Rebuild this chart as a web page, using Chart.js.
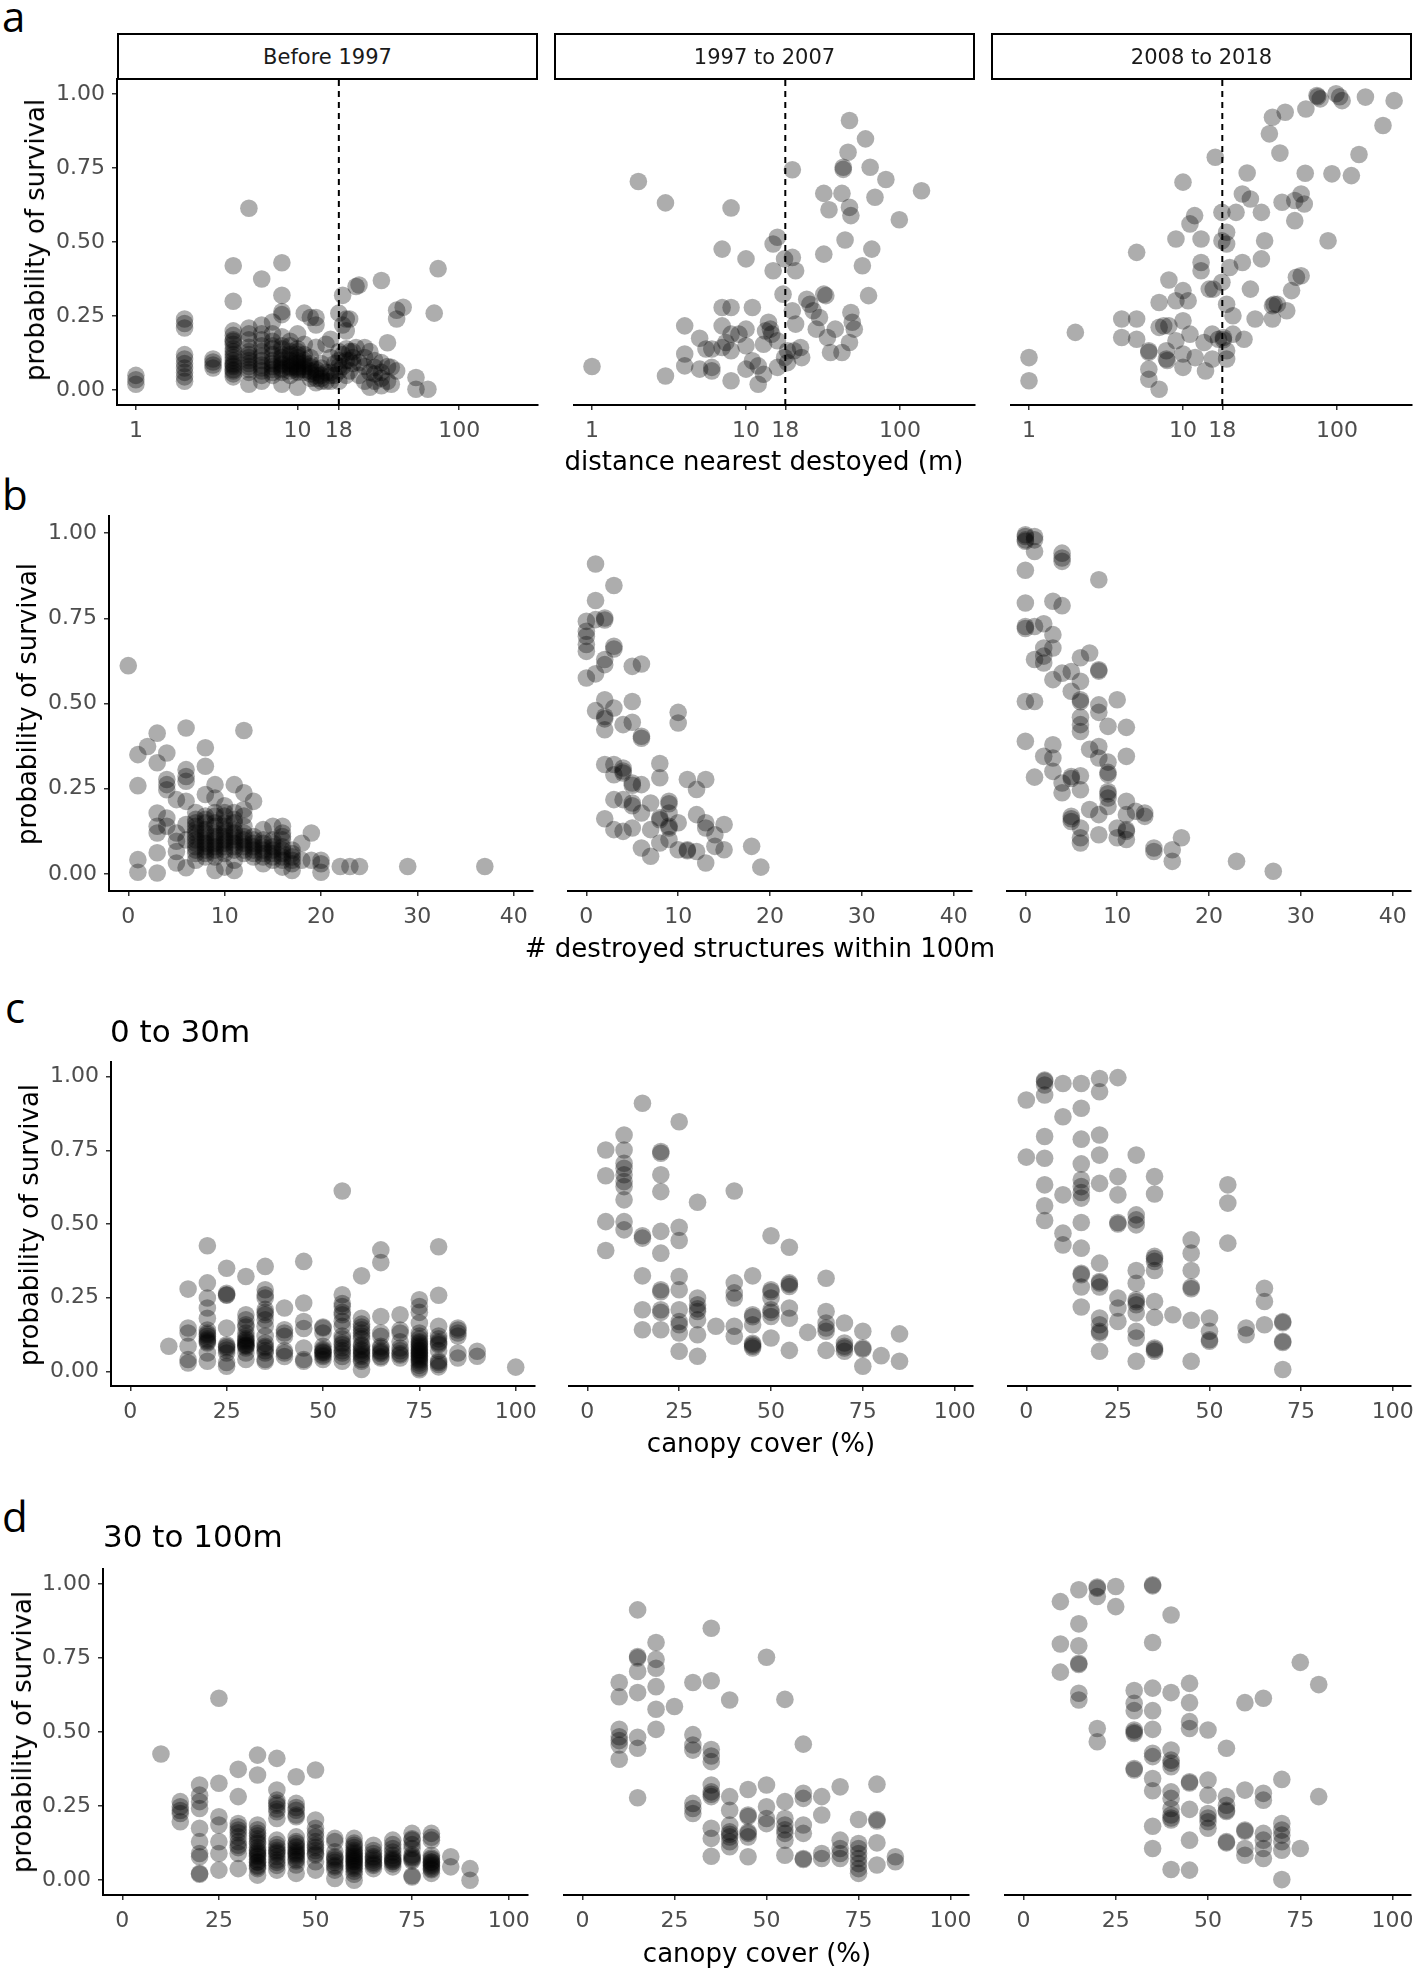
<!DOCTYPE html>
<html>
<head>
<meta charset="utf-8">
<script src="https://cdn.jsdelivr.net/npm/chart.js@4.4.1/dist/chart.umd.min.js"></script>
<style>
  body { margin: 0; background: #fff; width: 1418px; height: 1974px; position: relative; overflow: hidden; font-family: "DejaVu Sans", sans-serif; }
  canvas, .abs { position: absolute; }
  .letter { font-family: "Open Sans", sans-serif; font-size: 42px; line-height: 1; color: #000; }
  .strip { box-sizing: border-box; border: 2px solid #000; background: #fff; display: flex; align-items: center; justify-content: center; font-size: 21px; color: #1a1a1a; padding-top: 1px; }
  .xt { font-size: 26px; line-height: 1; white-space: nowrap; transform: translateX(-50%); color: #000; }
  .yt { font-size: 26px; line-height: 1; white-space: nowrap; transform: translate(-50%, -50%) rotate(-90deg); color: #000; }
  .rt { font-size: 31px; line-height: 1; white-space: nowrap; color: #000; }
</style>
</head>
<body>
<script>
// tick values and panel labels
const yTicks = [0, 0.25, 0.5, 0.75, 1];
const distTicks = [1, 10, 18, 100];
const countTicks = [0, 10, 20, 30, 40];
const canopyTicks = [0, 25, 50, 75, 100];
const periods = ['Before 1997', '1997 to 2007', '2008 to 2018'];
const cutoffDistance = 18;

// a: distance to nearest destroyed structure (m) vs probability of survival
const distBefore1997 = [
  [1,.05],[1,.035],[1,.02],
  [2,.24],[2,.225],[2,.21],[2,.12],[2,.105],[2,.09],[2,.075],[2,.06],[2,.045],[2,.03],
  [3,.105],[3,.095],[3,.085],[3,.075],
  [4,.42],[4,.30],[4,.20],[4,.185],[4,.17],[4,.165],[4,.155],[4,.14],[4,.13],[4,.12],[4,.11],[4,.10],[4,.09],[4,.085],[4,.08],[4,.07],[4,.065],[4,.055],[4,.045],
  [5,.614],[5,.21],[5,.19],[5,.17],[5,.145],[5,.13],[5,.12],[5,.11],[5,.1],[5,.09],[5,.08],[5,.07],[5,.06],[5,.02],
  [6,.375],[6,.22],[6,.19],[6,.17],[6,.15],[6,.13],[6,.115],[6,.1],[6,.085],[6,.075],[6,.065],[6,.05],[6,.03],
  [7,.23],[7,.19],[7,.165],[7,.15],[7,.14],[7,.12],[7,.1],[7,.09],[7,.08],[7,.07],[7,.06],[7,.05],
  [8,.43],[8,.32],[8,.265],[8,.255],[8,.18],[8,.15],[8,.14],[8,.12],[8,.11],[8,.1],[8,.09],[8,.085],[8,.075],[8,.07],[8,.06],[8,.02],
  [9,.165],[9,.15],[9,.13],[9,.12],[9,.1],[9,.09],[9,.08],[9,.075],[9,.065],[9,.05],
  [10,.19],[10,.14],[10,.13],[10,.12],[10,.11],[10,.1],[10,.09],[10,.08],[10,.075],[10,.07],[10,.065],[10,.06],[10,.01],
  [11,.26],[11,.155],[11,.12],[11,.1],[11,.09],[11,.08],[11,.07],[11,.06],
  [12,.245],[12,.11],[12,.09],[12,.08],[12,.065],[12,.055],[12,.04],
  [13,.245],[13,.22],[13,.145],[13,.07],[13,.06],[13,.05],[13,.04],[13,.025],
  [14,.09],[14,.075],[14,.05],[14,.04],[14,.03],
  [15,.155],[15,.06],[15,.03],
  [16,.172],[16,.11],[16,.06],[16,.05],[16,.03],
  [17,.09],[17,.05],
  [18,.26],[18,.13],[18,.1],[18,.08],[18,.065],[18,.03],
  [19,.32],[19,.22],[19,.12],[19,.08],
  [20,.24],[20,.2],[20,.14],[20,.1],[20,.05],
  [21,.24],[21,.13],[21,.1],[21,.065],
  [22,.13],[22,.11],[22,.09],
  [23,.35],[23,.144],
  [24,.355],[24,.093],[24,.05],
  [26,.144],[26,.11],[26,.08],[26,.03],
  [28,.13],[28,.06],[28,.01],
  [30,.1],[30,.077],[30,.055],[30,.03],
  [33,.37],[33,.093],[33,.06],[33,.04],[33,.015],
  [36,.16],[36,.08],[36,.03],
  [38,.077],[38,.02],
  [41,.27],[41,.24],[41,.065],
  [45,.28],
  [54,.043],[54,.003],
  [64,.003],
  [70,.26],
  [74,.41]
];
const dist1997to2007 = [
  [1,.08],[2,.704],[3,.632],[3,.048],[4,.217],[4,.122],[4,.082],[5,.175],[5,.071],[5.5,.139],
  [6,.139],[6,.077],[6,.065],[7,.476],[7,.279],[7,.217],[7,.144],[7.4,.161],[8,.615],[8,.279],
  [8,.189],[8,.133],[8,.032],[9,.189],[10,.443],[10,.206],[10,.15],[10,.071],[11,.279],[11,.099],
  [12,.082],[12,.02],[13,.155],[13,.054],[13.4,.2],[14,.229],[14.4,.206],[14.7,.189],[15,.493],[15,.403],
  [16,.516],[16,.167],[16,.077],[17.4,.324],[17.8,.443],[17.8,.11],[18.6,.133],[18.6,.093],[20,.744],[20,.448],
  [20,.268],[20.5,.133],[21,.403],[21,.223],[22.6,.144],[23,.11],[24.8,.307],[26,.29],[27.3,.268],[28.6,.206],
  [30,.245],[32,.664],[32,.459],[32,.324],[33,.319],[33.8,.178],[34.6,.609],[35.4,.127],[38,.206],[42,.664],
  [42.8,.752],[42.8,.745],[44,.507],[42,.127],[46,.803],[47,.91],[47,.617],[48,.589],[48,.262],[49,.229],
  [47,.161],[50.5,.206],[57,.42],[59.7,.848],[62.5,.319],[64,.752],[65.6,.476],[68.8,.651],[81,.711],[99,.575],
  [138,.673]
];
const dist2008to2018 = [
  [1,.11],[1,.032],[2,.195],[4,.24],[4,.178],[5,.465],[5,.24],[5,.172],[6,.133],[6,.128],
  [6,.071],[6,.037],[7,.296],[7,.212],[7,.003],[7.5,.217],[7.8,.133],[7.8,.105],[7.9,.1],[8.1,.372],
  [8.1,.217],[9,.51],[9,.167],[9,.302],[10,.702],[10,.336],[10,.234],[10,.122],[10,.077],[10.8,.302],
  [11.1,.189],[11.1,.561],[11.9,.589],[12,.11],[13.1,.51],[13.1,.431],[13.1,.403],[13.7,.161],[14,.065],[14.8,.341],
  [15.5,.189],[15.5,.105],[15.7,.341],[16.2,.786],[17,.172],[17.9,.6],[17.9,.504],[17.9,.364],[18.3,.178],[18.3,.17],
  [19.2,.533],[19.2,.493],[19.2,.29],[19.2,.133],[19.2,.105],[20.1,.414],[21.1,.251],[21.1,.189],[22.1,.6],[24.3,.431],
  [24.3,.662],[24.9,.172],[26.1,.733],[27.4,.645],[27.4,.341],[29.4,.24],[32.3,.6],[32.3,.443],[33.9,.504],[36.4,.865],
  [38.1,.921],[38.1,.24],[38.1,.285],[39,.29],[41,.29],[42.6,.8],[44,.634],[46.1,.938],[47.2,.268],[50.7,.336],
  [53.2,.572],[53.2,.64],[54.5,.381],[58.5,.662],[58.5,.386],[61.3,.628],[62.2,.732],[62.8,.949],[74.1,.994],[77.8,.983],
  [75,.99],[87.5,.504],[92.7,.73],[98.6,1.0],[108,.977],[104,.99],[124,.724],[139,.795],[153,.989],[199,.893],
  [235,.977]
];

// b: number of destroyed structures within 100 m
const countBefore1997 = [
  [0,.611],
  [1,.35],[1,.259],[1,.042],[1,.005],
  [2,.374],
  [3,.413],[3,.326],[3,.179],[3,.14],[3,.12],[3,.062],[3,.003],
  [4,.355],[4,.277],[4,.262],[4,.247],[4,.164],[4,.14],
  [5,.218],[5,.12],[5,.096],[5,.066],[5,.032],
  [6,.428],[6,.306],[6,.286],[6,.272],[6,.213],[6,.145],[6,.1],[6,.018],
  [7,.18],[7,.16],[7,.15],[7,.14],[7,.13],[7,.12],[7,.11],[7,.1],[7,.09],[7,.08],[7,.07],[7,.06],[7,.04],
  [8,.37],[8,.316],[8,.233],[8,.17],[8,.16],[8,.15],[8,.13],[8,.12],[8,.11],[8,.1],[8,.09],[8,.08],[8,.07],[8,.06],[8,.05],
  [9,.262],[9,.223],[9,.18],[9,.17],[9,.15],[9,.14],[9,.12],[9,.11],[9,.1],[9,.09],[9,.08],[9,.07],[9,.06],[9,.05],[9,.01],
  [10,.2],[10,.18],[10,.17],[10,.15],[10,.14],[10,.13],[10,.12],[10,.11],[10,.1],[10,.09],[10,.08],[10,.07],[10,.06],[10,.02],
  [11,.262],[11,.18],[11,.16],[11,.15],[11,.13],[11,.12],[11,.11],[11,.1],[11,.09],[11,.08],[11,.07],[11,.04],[11,.01],
  [12,.421],[12,.238],[12,.189],[12,.17],[12,.14],[12,.12],[12,.11],[12,.1],[12,.09],[12,.08],[12,.07],[12,.06],
  [13,.213],[13,.11],[13,.1],[13,.09],[13,.08],[13,.07],[13,.06],[13,.05],
  [14,.13],[14,.1],[14,.09],[14,.08],[14,.07],[14,.06],[14,.05],[14,.03],
  [15,.14],[15,.1],[15,.09],[15,.08],[15,.07],[15,.06],[15,.05],[15,.04],
  [16,.14],[16,.12],[16,.11],[16,.1],[16,.08],[16,.07],[16,.06],[16,.05],[16,.04],[16,.02],
  [17,.07],[17,.06],[17,.05],[17,.04],[17,.03],[17,.01],
  [18,.09],[18,.04],
  [19,.12],[19,.04],
  [20,.04],[20,.03],[20,.005],
  [22,.022],[23,.022],[24,.022],[29,.022],[37,.022]
];
const count1997to2007 = [
  [1,.909],[3,.846],[1,.802],[0,.741],[1,.746],[2,.751],[2,.745],[0,.712],[0,.697],[0,.673],
  [0,.653],[3,.668],[3,.66],[2,.629],[2,.614],[1,.587],[0,.575],[5,.609],[6,.616],[2,.511],
  [3,.487],[5,.506],[1,.479],[2,.462],[2,.455],[2,.423],[4,.438],[5,.445],[6,.404],[6,.398],
  [10,.474],[10,.443],[2,.321],[3,.321],[3,.291],[4,.311],[4,.302],[4,.296],[5,.267],[5,.26],
  [6,.262],[8,.324],[8,.282],[11,.277],[13,.277],[12,.248],[3,.218],[4,.218],[5,.208],[5,.2],
  [6,.179],[7,.208],[8,.159],[8,.165],[9,.213],[9,.206],[9,.179],[9,.135],[9,.14],[10,.15],
  [12,.174],[13,.15],[13,.135],[15,.145],[14,.115],[2,.162],[3,.13],[4,.125],[5,.135],[7,.13],
  [6,.076],[7,.052],[8,.091],[9,.101],[10,.071],[11,.071],[11,.068],[12,.066],[13,.032],[14,.081],
  [15,.071],[18,.081],[19,.02]
];
const count2008to2018 = [
  [0,.995],[0,.98],[1,.99],[1,.98],[0,.976],[0,.99],[1,.946],[4,.941],[4,.927],[4,.917],
  [0,.891],[8,.863],[0,.795],[3,.8],[4,.787],[0,.726],[0,.72],[1,.726],[2,.734],[3,.702],
  [2,.663],[3,.663],[1,.629],[2,.639],[2,.619],[6,.634],[7,.648],[3,.57],[4,.589],[5,.594],
  [8,.599],[8,.595],[6,.565],[5,.536],[6,.511],[6,.505],[0,.506],[1,.506],[8,.496],[8,.474],
  [10,.511],[6,.46],[6,.438],[6,.418],[9,.433],[11,.43],[0,.389],[3,.379],[7,.366],[8,.374],
  [8,.34],[9,.328],[9,.298],[9,.292],[11,.345],[2,.345],[3,.34],[3,.301],[1,.284],[4,.267],
  [5,.286],[5,.28],[6,.288],[6,.247],[4,.238],[9,.242],[9,.235],[9,.223],[9,.198],[11,.213],
  [7,.189],[8,.174],[12,.184],[13,.179],[13,.169],[5,.169],[5,.162],[5,.154],[11,.174],[10,.135],
  [11,.13],[11,.125],[6,.135],[6,.106],[6,.091],[8,.115],[10,.106],[11,.101],[14,.076],[14,.066],
  [16,.071],[16,.037],[17,.106],[23,.037],[27,.008]
];

// c: canopy cover (%) within 0 to 30 m
const canopyNearBefore1997 = [
  [10,.085],
  [15,.279],[15,.147],[15,.13],[15,.085],[15,.04],[15,.028],
  [20,.426],[20,.3],[20,.249],[20,.215],[20,.18],[20,.14],[20,.13],[20,.125],[20,.119],[20,.11],[20,.105],[20,.1],[20,.096],[20,.062],[20,.034],
  [25,.35],[25,.265],[25,.26],[25,.258],[25,.147],[25,.09],[25,.085],[25,.08],[25,.072],[25,.062],[25,.03],[25,.017],
  [30,.322],[30,.192],[30,.175],[30,.158],[30,.15],[30,.13],[30,.119],[30,.11],[30,.105],[30,.1],[30,.096],[30,.09],[30,.088],[30,.085],[30,.079],[30,.062],[30,.04],
  [35,.356],[35,.277],[35,.26],[35,.249],[35,.21],[35,.2],[35,.192],[35,.175],[35,.153],[35,.12],[35,.096],[35,.085],[35,.08],[35,.07],[35,.062],[35,.04],[35,.034],
  [40,.215],[40,.141],[40,.13],[40,.119],[40,.07],[40,.062],[40,.05],
  [45,.373],[45,.232],[45,.169],[45,.145],[45,.079],[45,.04],[45,.034],
  [50,.15],[50,.147],[50,.13],[50,.085],[50,.075],[50,.07],[50,.065],[50,.062],[50,.055],[50,.05],[50,.04],
  [55,.612],[55,.26],[55,.23],[55,.22],[55,.2],[55,.192],[55,.17],[55,.153],[55,.12],[55,.11],[55,.096],[55,.09],[55,.08],[55,.07],[55,.062],[55,.05],[55,.034],
  [60,.324],[60,.18],[60,.16],[60,.15],[60,.141],[60,.13],[60,.12],[60,.11],[60,.09],[60,.085],[60,.075],[60,.07],[60,.062],[60,.055],[60,.05],[60,.04],[60,.034],[60,.006],
  [65,.412],[65,.369],[65,.186],[65,.13],[65,.119],[65,.085],[65,.079],[65,.07],[65,.065],[65,.06],[65,.05],[65,.045],
  [70,.192],[70,.14],[70,.13],[70,.1],[70,.079],[70,.07],[70,.06],[70,.055],[70,.045],
  [75,.243],[75,.22],[75,.2],[75,.164],[75,.13],[75,.12],[75,.11],[75,.1],[75,.096],[75,.09],[75,.085],[75,.08],[75,.073],[75,.07],[75,.065],[75,.06],[75,.055],[75,.051],[75,.045],[75,.04],[75,.035],[75,.028],[75,.02],[75,.011],[75,.005],
  [80,.423],[80,.258],[80,.153],[80,.12],[80,.11],[80,.1],[80,.095],[80,.09],[80,.07],[80,.035],[80,.03],[80,.023],[80,.015],
  [85,.147],[85,.14],[85,.13],[85,.12],[85,.062],[85,.045],
  [90,.068],[90,.051],
  [100,.014]
];
const canopyNear1997to2007 = [
  [5,.751],[5,.664],[5,.508],[5,.41],
  [10,.802],[10,.751],[10,.706],[10,.689],[10,.667],[10,.644],[10,.627],[10,.582],[10,.508],[10,.48],
  [15,.91],[15,.46],[15,.452],[15,.324],[15,.209],[15,.141],
  [20,.746],[20,.74],[20,.667],[20,.61],[20,.475],[20,.401],[20,.277],[20,.27],[20,.209],[20,.2],[20,.141],
  [25,.847],[25,.489],[25,.444],[25,.322],[25,.277],[25,.209],[25,.169],[25,.158],[25,.13],[25,.068],
  [30,.574],[30,.249],[30,.226],[30,.212],[30,.203],[30,.175],[30,.124],[30,.051],
  [35,.153],
  [40,.612],[40,.3],[40,.266],[40,.249],[40,.153],[40,.119],
  [45,.324],[45,.192],[45,.185],[45,.158],[45,.095],[45,.09],[45,.085],[45,.079],
  [50,.46],[50,.277],[50,.27],[50,.249],[50,.209],[50,.2],[50,.186],[50,.113],
  [55,.421],[55,.3],[55,.295],[55,.288],[55,.215],[55,.18],[55,.071],
  [60,.132],
  [65,.316],[65,.203],[65,.164],[65,.147],[65,.136],[65,.071],
  [70,.164],[70,.096],[70,.085],[70,.079],[70,.068],
  [75,.136],[75,.079],[75,.075],[75,.017],
  [80,.053],
  [85,.127],[85,.034]
];
const canopyNear2008to2018 = [
  [0,.921],[0,.727],
  [5,.989],[5,.985],[5,.972],[5,.938],[5,.797],[5,.723],[5,.633],[5,.562],[5,.512],
  [10,.977],[10,.864],[10,.599],[10,.469],[10,.429],
  [15,.977],[15,.893],[15,.788],[15,.704],[15,.65],[15,.627],[15,.607],[15,.588],[15,.505],[15,.418],[15,.333],[15,.328],[15,.286],[15,.218],
  [20,.994],[20,.949],[20,.802],[20,.734],[20,.638],[20,.367],[20,.305],[20,.3],[20,.286],[20,.181],[20,.158],[20,.136],[20,.13],[20,.068],
  [25,.997],[25,.661],[25,.599],[25,.505],[25,.5],[25,.249],[25,.215],[25,.169],
  [30,.734],[30,.531],[30,.514],[30,.497],[30,.342],[30,.299],[30,.243],[30,.236],[30,.226],[30,.198],[30,.136],[30,.113],[30,.034],
  [35,.661],[35,.602],[35,.39],[35,.383],[35,.373],[35,.342],[35,.237],[35,.183],[35,.079],[35,.074],[35,.068],
  [40,.192],
  [45,.446],[45,.401],[45,.342],[45,.286],[45,.28],[45,.173],[45,.034],
  [50,.181],[50,.136],[50,.107],[50,.102],
  [55,.633],[55,.571],[55,.435],
  [60,.147],[60,.124],
  [65,.282],[65,.237],[65,.158],
  [70,.169],[70,.165],[70,.102],[70,.098],[70,.006]
];

// d: canopy cover (%) within 30 to 100 m
const canopyFarBefore1997 = [
  [10,.426],
  [15,.265],[15,.248],[15,.235],[15,.225],[15,.197],
  [20,.321],[20,.287],[20,.265],[20,.242],[20,.175],[20,.13],[20,.09],[20,.079],[20,.023],[20,.02],
  [25,.614],[25,.327],[25,.214],[25,.186],[25,.13],[25,.09],[25,.034],
  [30,.374],[30,.282],[30,.191],[30,.18],[30,.169],[30,.16],[30,.146],[30,.13],[30,.118],[30,.11],[30,.09],[30,.039],
  [35,.422],[35,.355],[35,.186],[35,.17],[35,.158],[35,.15],[35,.14],[35,.13],[35,.124],[35,.11],[35,.101],[35,.095],[35,.09],[35,.084],[35,.08],[35,.07],[35,.062],[35,.06],[35,.05],[35,.045],[35,.039],[35,.017],
  [40,.411],[40,.304],[40,.27],[40,.26],[40,.253],[40,.24],[40,.231],[40,.208],[40,.135],[40,.12],[40,.11],[40,.101],[40,.095],[40,.09],[40,.08],[40,.068],[40,.06],[40,.05],[40,.034],
  [45,.349],[45,.259],[45,.245],[45,.236],[45,.22],[45,.214],[45,.146],[45,.13],[45,.124],[45,.115],[45,.11],[45,.101],[45,.095],[45,.09],[45,.085],[45,.079],[45,.07],[45,.065],[45,.051],[45,.023],
  [50,.372],[50,.203],[50,.175],[50,.16],[50,.146],[50,.13],[50,.118],[50,.11],[50,.1],[50,.09],[50,.085],[50,.062],[50,.034],
  [55,.141],[55,.13],[55,.096],[55,.08],[55,.075],[55,.068],[55,.06],[55,.05],[55,.045],[55,.034],[55,.006],
  [60,.141],[60,.125],[60,.118],[60,.11],[60,.101],[60,.095],[60,.09],[60,.084],[60,.08],[60,.075],[60,.07],[60,.065],[60,.062],[60,.055],[60,.05],[60,.045],[60,.039],[60,.03],[60,.02],[60,0],
  [65,.118],[65,.1],[65,.09],[65,.08],[65,.075],[65,.068],[65,.06],[65,.055],[65,.05],[65,.039],
  [70,.135],[70,.12],[70,.107],[70,.095],[70,.084],[70,.075],[70,.07],[70,.065],[70,.062],[70,.055],[70,.045],
  [75,.158],[75,.14],[75,.135],[75,.12],[75,.107],[75,.085],[75,.079],[75,.075],[75,.07],[75,.065],[75,.015],[75,.011],
  [80,.158],[80,.145],[80,.135],[80,.084],[80,.075],[80,.07],[80,.062],[80,.06],[80,.055],[80,.05],[80,.045],[80,.039],[80,.035],[80,.023],
  [85,.079],[85,.045],
  [90,.039],[90,0]
];
const canopyFar1997to2007 = [
  [10,.667],[10,.619],[10,.509],[10,.484],[10,.471],[10,.456],[10,.408],
  [15,.912],[15,.755],[15,.75],[15,.704],[15,.633],[15,.482],[15,.445],[15,.278],
  [20,.802],[20,.745],[20,.715],[20,.653],[20,.577],[20,.509],
  [25,.586],
  [30,.667],[30,.491],[30,.456],[30,.439],[30,.259],[30,.242],[30,.225],
  [35,.85],[35,.673],[35,.441],[35,.419],[35,.4],[35,.321],[35,.298],[35,.29],[35,.282],[35,.175],[35,.141],[35,.081],
  [40,.608],[40,.282],[40,.236],[40,.186],[40,.163],[40,.155],[40,.146],[40,.13],[40,.113],
  [45,.306],[45,.22],[45,.215],[45,.163],[45,.158],[45,.146],[45,.079],
  [50,.752],[50,.321],[50,.248],[50,.208],[50,.191],
  [55,.61],[55,.265],[55,.208],[55,.186],[55,.17],[55,.158],[55,.135],[55,.084],
  [60,.459],[60,.293],[60,.276],[60,.186],[60,.158],[60,.073],[60,.07],
  [65,.282],[65,.22],[65,.09],[65,.073],
  [70,.315],[70,.135],[70,.107],[70,.09],[70,.073],
  [75,.205],[75,.124],[75,.107],[75,.09],[75,.073],[75,.056],[75,.039],[75,.023],
  [80,.324],[80,.205],[80,.2],[80,.126],[80,.051],
  [85,.079],[85,.062]
];
const canopyFar2008to2018 = [
  [10,.94],[10,.797],[10,.702],
  [15,.98],[15,.865],[15,.791],[15,.732],[15,.728],[15,.631],[15,.608],
  [20,.989],[20,.985],[20,.957],[20,.512],[20,.467],
  [25,.991],[25,.923],
  [30,.64],[30,.597],[30,.572],[30,.507],[30,.5],[30,.495],[30,.377],[30,.372],
  [35,.997],[35,.993],[35,.802],[35,.648],[35,.572],[35,.509],[35,.428],[35,.417],[35,.343],[35,.302],[35,.182],[35,.107],
  [40,.895],[40,.633],[40,.439],[40,.405],[40,.395],[40,.383],[40,.298],[40,.276],[40,.242],[40,.22],[40,.21],[40,.203],[40,.036],
  [45,.664],[45,.599],[45,.535],[45,.512],[45,.332],[45,.328],[45,.239],[45,.135],[45,.034],
  [50,.507],[50,.338],[50,.287],[50,.225],[50,.21],[50,.197],[50,.175],
  [55,.445],[55,.282],[55,.253],[55,.236],[55,.232],[55,.13],[55,.126],
  [60,.599],[60,.304],[60,.169],[60,.165],[60,.107],[60,.084],
  [65,.614],[65,.293],[65,.27],[65,.158],[65,.135],[65,.107],[65,.073],
  [70,.34],[70,.191],[70,.169],[70,.152],[70,.13],[70,.101],[70,.002],
  [75,.735],[75,.107],
  [80,.66],[80,.282]
];

// page layout of the four rows of panels (pixels)
const rows = [
  { data: [distBefore1997, dist1997to2007, dist2008to2018], xType: 'logarithmic', xMin: 0.764, xMax: 307, xTicks: distTicks, cutoff: cutoffDistance,
    top: 79, height: 326, lefts: [117, 554, 991], widths: [421, 421, 421] },
  { data: [countBefore1997, count1997to2007, count2008to2018], xType: 'linear', xMin: -2, xMax: 42, xTicks: countTicks,
    top: 516, height: 375, lefts: [109, 548, 987], widths: [424, 424, 424] },
  { data: [canopyNearBefore1997, canopyNear1997to2007, canopyNear2008to2018], xType: 'linear', xMin: -5, xMax: 105, xTicks: canopyTicks,
    top: 1062, height: 324, lefts: [111, 549, 988], widths: [424, 424, 423] },
  { data: [canopyFarBefore1997, canopyFar1997to2007, canopyFar2008to2018], xType: 'linear', xMin: -5, xMax: 105, xTicks: canopyTicks,
    top: 1569, height: 326, lefts: [103, 544, 985], widths: [425, 425, 426] }
];

const tickFont = { family: 'DejaVu Sans', size: 22 };
const tickGrid = { display: true, drawOnChartArea: false, drawTicks: true, tickLength: 5, color: '#333', lineWidth: 1.5 };
const axisBorder = { display: true, color: '#000', width: 2 };

function addText(cls, text, left, top) {
  const d = document.createElement('div');
  d.className = 'abs ' + cls;
  d.textContent = text;
  d.style.left = left + 'px';
  d.style.top = top + 'px';
  document.body.appendChild(d);
  return d;
}

function makePanel(row, i) {
  const first = i === 0;
  // padT is kept above the y scale's own label padding so the plot top lands exactly on row.top
  const padL = first ? 72 : 20, padT = 26, padR = 28, axisH = 50;
  const cv = document.createElement('canvas');
  cv.width = padL + row.widths[i] + padR;
  cv.height = padT + row.height + axisH;
  cv.style.left = (row.lefts[i] - padL) + 'px';
  cv.style.top = (row.top - padT) + 'px';
  document.body.appendChild(cv);

  const datasets = [];
  if (row.cutoff) {
    datasets.push({
      type: 'line',
      data: [{ x: row.cutoff, y: -0.05 }, { x: row.cutoff, y: 1.05 }],
      borderColor: '#000', borderWidth: 2, borderDash: [6, 5], pointRadius: 0, fill: false
    });
  }
  datasets.push({
    data: row.data[i].map(p => ({ x: p[0], y: p[1] })),
    backgroundColor: 'rgba(0,0,0,0.32)', borderWidth: 0, pointRadius: 8.8, pointHoverRadius: 8.8
  });

  new Chart(cv, {
    type: 'scatter',
    data: { datasets },
    options: {
      responsive: false, animation: false, devicePixelRatio: 1,
      layout: { padding: { left: first ? 0 : padL, top: padT, right: padR, bottom: 0 } },
      plugins: { legend: { display: false }, tooltip: { enabled: false } },
      scales: {
        x: {
          type: row.xType, min: row.xMin, max: row.xMax,
          afterFit: s => { s.height = axisH; },
          afterBuildTicks: s => { s.ticks = row.xTicks.map(v => ({ value: v })); },
          ticks: { autoSkip: false, maxRotation: 0, padding: 8, color: '#4d4d4d', font: tickFont, callback: v => String(v) },
          grid: tickGrid, border: axisBorder
        },
        y: {
          display: first, min: -0.05, max: 1.05,
          afterFit: s => { s.width = padL; },
          afterBuildTicks: s => { s.ticks = yTicks.map(v => ({ value: v })); },
          ticks: { padding: 7, color: '#4d4d4d', font: tickFont, callback: v => v.toFixed(2) },
          grid: tickGrid, border: axisBorder
        }
      }
    }
  });
}

rows.forEach(row => [0, 1, 2].forEach(i => makePanel(row, i)));

// facet strips over row a
periods.forEach((p, i) => {
  const s = addText('strip', p, rows[0].lefts[i], 33);
  s.style.width = rows[0].widths[i] + 'px';
  s.style.height = '47px';
});

// panel letters and row titles
addText('letter', 'a', 2, -5);
addText('letter', 'b', 2, 473);
addText('letter', 'c', 5, 986);
addText('letter', 'd', 2, 1495);
addText('rt', '0 to 30m', 110, 1015.5);
addText('rt', '30 to 100m', 103, 1520.5);

// axis titles
addText('xt', 'distance nearest destoyed (m)', 764, 448);
addText('xt', '# destroyed structures within 100m', 760, 935);
addText('xt', 'canopy cover (%)', 761, 1430);
addText('xt', 'canopy cover (%)', 757, 1940);
[[35, 240], [27, 704], [29, 1225], [22, 1732]].forEach(([x, y]) => addText('yt', 'probability of survival', x, y));
</script>
</body>
</html>
